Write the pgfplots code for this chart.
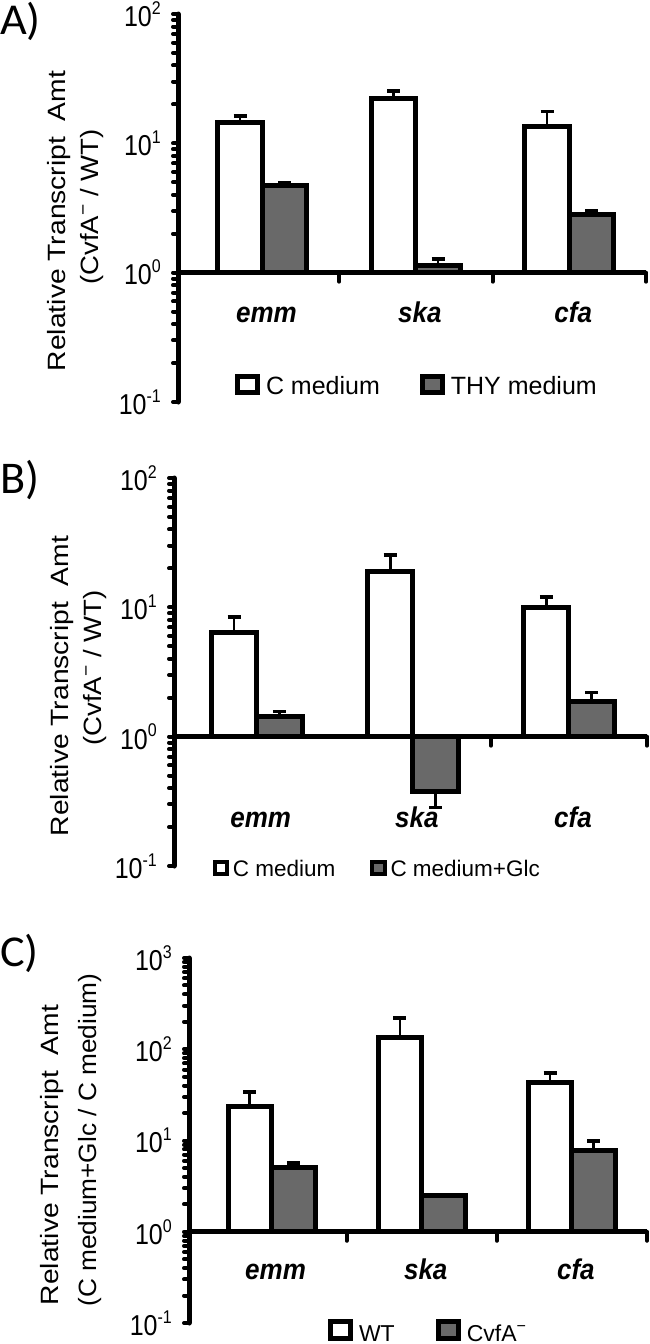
\documentclass[border=0pt]{standalone}
\usepackage{graphicx}
\usepackage{pgfplots}
\pgfplotsset{compat=1.18}
\usepackage{fontspec}
\setmainfont{Liberation Sans}
\newfontfamily\panelfont{Carlito}
\definecolor{bargray}{RGB}{105,105,105}

\newcommand{\tl}[1]{10\raisebox{0.42em}{\fontsize{16}{16}\selectfont #1}}

\tikzset{
 catlabel/.style={anchor=base, font=\fontsize{26}{26}\selectfont\bfseries\itshape, xshift=4pt},
 xaxisline/.style={line width=5pt},
 xtickmark/.style={line width=4pt, line cap=round},
 ylab/.style={rotate=90, anchor=base, inner sep=0pt},
 plab/.style={anchor=base west, inner sep=0pt, font=\panelfont\fontsize{42}{42}\selectfont},
}
\newcommand{\cat}[1]{\scalebox{1}[1.1]{#1}}

\begin{document}
\begin{tikzpicture}[x=1pt,y=1pt]
\path[use as bounding box] (0,0) rectangle (650,-1344);

% ---------------- Panel A ----------------
\begin{axis}[
  scale only axis, clip=false,
  ymode=log,
  xmin=-0.55, xmax=2.5,
  axis x line=none, axis y line=left,
  axis line style={-},
  y axis line style={line width=5pt, line cap=round},
  ybar=0pt, bar width=0.29,
  xtick=\empty,
  tick align=outside,
  major tick length=5pt, minor tick length=5pt,
  every tick/.style={black, line width=4pt, line cap=round},
  yticklabel style={font=\fontsize{25}{25}\selectfont, yscale=1.15, inner sep=0pt, xshift=-12pt},
  legend columns=2,
  at={(178pt,-402pt)}, anchor=south west,
  width=468pt, height=388pt,
  ymin=0.1, ymax=100,
  ytick={0.1,1,10,100},
  yticklabels={\tl{-1},\tl{0},\tl{1},\tl{2}},
  minor ytick={0.2,0.3,0.4,0.5,0.6,0.7,0.8,0.9,2,3,4,5,6,7,8,9,20,30,40,50,60,70,80,90},
  legend image code/.code={\draw[#1, draw=black, line width=5pt] (2.5pt,2.5pt) rectangle (22.5pt,18.5pt);},
  legend style={draw=none, fill=none, inner sep=0pt, outer sep=0pt,
    cells={anchor=base west},
    at={(0.1218,0.0412)}, anchor=west,
    font=\fontsize{25}{25}\selectfont,
    /tikz/every odd column/.append style={column sep=4pt},
    /tikz/every even column/.append style={column sep=38pt}},
]
\addplot[fill=white, draw=black, line width=5pt,
  error bars/.cd, y dir=both, y explicit,
  error bar style={line width=2.7pt, black},
  error mark options={rotate=90, line width=3.5pt, black, mark size=6.5pt}]
  table[x=x, y=y, y error plus=ep, y error minus=em] {
x y ep em
0 14.5 1.7 0
1 22.3 3.0 0
2 13.5 4.2 0
};
\addlegendentry{C medium}
\addplot[fill=bargray, draw=black, line width=5pt,
  error bars/.cd, y dir=both, y explicit,
  error bar style={line width=2.7pt, black},
  error mark options={rotate=90, line width=3.5pt, black, mark size=6.5pt}]
  table[x=x, y=y, y error plus=ep, y error minus=em] {
x y ep em
0 4.7 0.3 0
1 1.13 0.15 0
2 2.8 0.2 0
};
\addlegendentry{THY medium}
\draw[xaxisline] (axis cs:-0.55,1) -- (axis cs:2.5,1);
\draw[xtickmark] (axis cs:0.5,1) -- ++(0pt,-9pt);
\draw[xtickmark] (axis cs:1.5,1) -- ++(0pt,-9pt);
\draw[xtickmark] (axis cs:2.5,1) -- ++(0pt,-9pt);
\node[catlabel] at (axis cs:0,0.41) {\cat{emm}};
\node[catlabel] at (axis cs:1,0.41) {\cat{ska}};
\node[catlabel] at (axis cs:2,0.41) {\cat{cfa}};
\end{axis}

% ---------------- Panel B ----------------
\begin{axis}[
  scale only axis, clip=false,
  ymode=log,
  xmin=-0.53, xmax=2.5,
  axis x line=none, axis y line=left,
  axis line style={-},
  y axis line style={line width=5pt, line cap=round},
  ybar=0pt, bar width=0.29,
  xtick=\empty,
  tick align=outside,
  major tick length=5pt, minor tick length=5pt,
  every tick/.style={black, line width=4pt, line cap=round},
  yticklabel style={font=\fontsize{25}{25}\selectfont, yscale=1.15, inner sep=0pt, xshift=-12pt},
  legend columns=2,
  at={(174pt,-866pt)}, anchor=south west,
  width=473pt, height=388pt,
  ymin=0.1, ymax=100,
  ytick={0.1,1,10,100},
  yticklabels={\tl{-1},\tl{0},\tl{1},\tl{2}},
  minor ytick={0.2,0.3,0.4,0.5,0.6,0.7,0.8,0.9,2,3,4,5,6,7,8,9,20,30,40,50,60,70,80,90},
  legend image code/.code={\draw[#1, draw=black, line width=4pt] (2pt,2pt) rectangle (14pt,14pt);},
  legend style={draw=none, fill=none, inner sep=0pt, outer sep=0pt,
    cells={anchor=base west},
    at={(0.0824,-0.0077)}, anchor=west,
    font=\fontsize{22.5}{22.5}\selectfont,
    /tikz/every odd column/.append style={column sep=2pt},
    /tikz/every even column/.append style={column sep=33pt}},
]
\addplot[fill=white, draw=black, line width=5pt,
  error bars/.cd, y dir=both, y explicit,
  error bar style={line width=2.7pt, black},
  error mark options={rotate=90, line width=3.5pt, black, mark size=6.5pt}]
  table[x=x, y=y, y error plus=ep, y error minus=em] {
x y ep em
0 6.4 2.0 0
1 18.8 6.6 0
2 9.9 2.1 0
};
\addlegendentry{C medium}
\addplot[fill=bargray, draw=black, line width=5pt,
  error bars/.cd, y dir=both, y explicit,
  error bar style={line width=2.7pt, black},
  error mark options={rotate=90, line width=3.5pt, black, mark size=6.5pt}]
  table[x=x, y=y, y error plus=ep, y error minus=em] {
x y ep em
0 1.43 0.13 0
1 0.376 0 0.093
2 1.86 0.34 0
};
\addlegendentry{C medium+Glc}
\draw[xaxisline] (axis cs:-0.53,1) -- (axis cs:2.5,1);
\draw[xtickmark] (axis cs:1.5,1) -- ++(0pt,-9pt);
\draw[xtickmark] (axis cs:2.5,1) -- ++(0pt,-9pt);
\node[catlabel] at (axis cs:0,0.198) {\cat{emm}};
\node[catlabel] at (axis cs:1,0.198) {\cat{ska}};
\node[catlabel] at (axis cs:2,0.198) {\cat{cfa}};
\end{axis}

% ---------------- Panel C ----------------
\begin{axis}[
  scale only axis, clip=false,
  ymode=log,
  xmin=-0.55, xmax=2.5,
  axis x line=none, axis y line=left,
  axis line style={-},
  y axis line style={line width=5pt, line cap=round},
  ybar=0pt, bar width=0.29,
  xtick=\empty,
  tick align=outside,
  major tick length=5pt, minor tick length=5pt,
  every tick/.style={black, line width=4pt, line cap=round},
  yticklabel style={font=\fontsize{25}{25}\selectfont, yscale=1.15, inner sep=0pt, xshift=-12pt},
  legend columns=2,
  at={(189pt,-1323pt)}, anchor=south west,
  width=458pt, height=365pt,
  ymin=0.1, ymax=1000,
  ytick={0.1,1,10,100,1000},
  yticklabels={\tl{-1},\tl{0},\tl{1},\tl{2},\tl{3}},
  minor ytick={0.2,0.3,0.4,0.5,0.6,0.7,0.8,0.9,2,3,4,5,6,7,8,9,20,30,40,50,60,70,80,90,200,300,400,500,600,700,800,900},
  legend image code/.code={\draw[#1, draw=black, line width=5pt] (2.5pt,2.5pt) rectangle (22.5pt,20pt);},
  legend style={draw=none, fill=none, inner sep=0pt, outer sep=0pt,
    cells={anchor=base west},
    at={(0.3035,-0.0233)}, anchor=west,
    font=\fontsize{23}{23}\selectfont,
    /tikz/every odd column/.append style={column sep=4pt},
    /tikz/every even column/.append style={column sep=39pt}},
]
\addplot[fill=white, draw=black, line width=5pt,
  error bars/.cd, y dir=both, y explicit,
  error bar style={line width=2.7pt, black},
  error mark options={rotate=90, line width=3.5pt, black, mark size=6.5pt}]
  table[x=x, y=y, y error plus=ep, y error minus=em] {
x y ep em
0 23.4 10.6 0
1 133 88 0
2 42.9 12 0
};
\addlegendentry{WT}
\addplot[fill=bargray, draw=black, line width=5pt,
  error bars/.cd, y dir=both, y explicit,
  error bar style={line width=2.7pt, black},
  error mark options={rotate=90, line width=3.5pt, black, mark size=6.5pt}]
  table[x=x, y=y, y error plus=ep, y error minus=em] {
x y ep em
0 5.0 0.7 0
1 2.48 0 0
2 7.7 2.2 0
};
\addlegendentry{CvfA\textsuperscript{−}}
\draw[xaxisline] (axis cs:-0.55,1) -- (axis cs:2.5,1);
\draw[xtickmark] (axis cs:0.5,1) -- ++(0pt,-9pt);
\draw[xtickmark] (axis cs:1.5,1) -- ++(0pt,-9pt);
\draw[xtickmark] (axis cs:2.5,1) -- ++(0pt,-9pt);
\node[catlabel] at (axis cs:0,0.298) {\cat{emm}};
\node[catlabel] at (axis cs:1,0.298) {\cat{ska}};
\node[catlabel] at (axis cs:2,0.298) {\cat{cfa}};
\end{axis}

% ---------------- Y labels ----------------
\node[ylab, font=\fontsize{25}{25}\selectfont] at (65,-221) {\scalebox{1.13}[1]{Relative Transcript\ \ Amt}};
\node[ylab, font=\fontsize{25}{25}\selectfont] at (98,-207) {\scalebox{1.1}[1]{(CvfA\textsuperscript{−} / WT)}};
\node[ylab, font=\fontsize{25}{25}\selectfont] at (68,-686) {\scalebox{1.13}[1]{Relative Transcript\ \ Amt}};
\node[ylab, font=\fontsize{25}{25}\selectfont] at (101,-668) {\scalebox{1.1}[1]{(CvfA\textsuperscript{−} / WT)}};
\node[ylab, font=\fontsize{25}{25}\selectfont] at (58,-1155) {\scalebox{1.13}[1]{Relative Transcript\ \ Amt}};
\node[ylab, font=\fontsize{25}{25}\selectfont] at (96,-1140) {\scalebox{1.05}[1]{(C medium+Glc / C medium)}};

% ---------------- Panel letters ----------------
\node[plab] at (0,-34) {\scalebox{1.1}[1.05]{A)}};
\node[plab] at (0,-493) {\scalebox{1.1}[1.08]{B)}};
\node[plab] at (0,-966) {\scalebox{1.1}[1.05]{C)}};
\end{tikzpicture}
\end{document}
